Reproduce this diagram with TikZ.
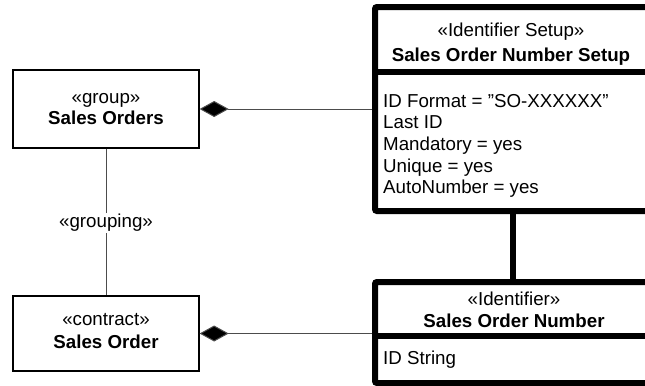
\documentclass[tikz,border=0pt]{standalone}
\usepackage{fontspec}
\setmainfont{Liberation Sans}
\usetikzlibrary{arrows.meta}
\begin{document}
\begin{tikzpicture}[x=1bp,y=-1bp,
  every node/.style={font=\fontsize{18.8}{21.5}\selectfont, inner sep=0pt},
  thinbox/.style={draw=black, line width=1.3bp, fill=white},
  thickbox/.style={draw=black, line width=6bp, rounded corners=2bp, fill=white},
  divider/.style={draw=black, line width=6bp},
  conn/.style={draw=black!70, line width=1bp},
  heavy/.style={draw=black, line width=6bp},
  comp/.style={{Diamond[length=29bp,width=16bp,fill=black]}-},
  ctext/.style={anchor=base},
  ltext/.style={anchor=base west}]
\useasboundingbox (0,0) rectangle (645,385);

% element boxes
\node[thinbox, minimum width=186bp, minimum height=78bp] (grp) at (106,109) {};
\node[thinbox, minimum width=186bp, minimum height=75bp] (ord) at (106,333.5) {};
\node[thickbox, minimum width=282bp, minimum height=204bp] (setup) at (516,109) {};
\node[thickbox, minimum width=282bp, minimum height=101bp] (ident) at (516,332.5) {};

% compartment dividers
\coordinate (sdiv) at (0,72);
\coordinate (idiv) at (0,336);
\draw[divider] (setup.west |- sdiv) -- (setup.east |- sdiv);
\draw[divider] (ident.west |- idiv) -- (ident.east |- idiv);

% connectors
\coordinate (link) at (513,0);
\draw[conn, comp] (grp.east) -- (setup.west |- grp.east);
\draw[conn, comp] (ord.east) -- (ident.west |- ord.east);
\draw[heavy] (setup.south -| link) -- (ident.north -| link);
\draw[conn] (grp.south) -- node[fill=white, inner ysep=1bp, inner xsep=0pt, yshift=-1bp] (grpl) {«grouping»} (ord.north);

% texts of the left boxes
\node[ctext] (grps) at (106,103) {«group»};
\node[ctext] (grpn) at (106,124) {\bfseries Sales Orders};
\node[ctext] (ords) at (106,325) {«contract»};
\node[ctext] (ordn) at (106,348) {\bfseries Sales Order};

% texts of the identifier setup
\node[ctext] (sets) at (511,36) {«Identifier Setup»};
\node[ctext] (setn) at (511,61) {\bfseries Sales Order Number Setup};
\node[ltext] (a1) at (383,107) {ID Format = ”SO-XXXXXX”};
\node[ltext] (a2) at (383,128) {Last ID};
\node[ltext] (a3) at (383,150) {Mandatory = yes};
\node[ltext] (a4) at (383,172) {Unique = yes};
\node[ltext] (a5) at (383,193) {AutoNumber = yes};

% texts of the identifier
\node[ctext] (ids) at (514,305) {«Identifier»};
\node[ctext] (idn) at (514,327) {\bfseries Sales Order Number};
\node[ltext] (b1) at (383,364) {ID String};
\end{tikzpicture}
\end{document}
